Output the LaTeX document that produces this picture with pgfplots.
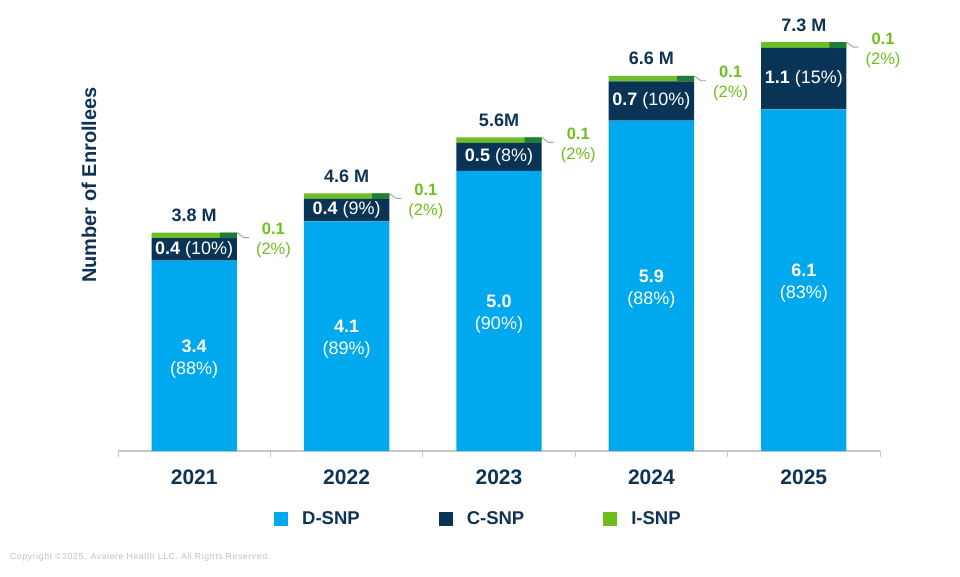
\documentclass[border=0pt]{standalone}
\usepackage{fontspec}
\setmainfont{Liberation Sans}
\usepackage{pgfplots}
\pgfplotsset{compat=1.18}
\definecolor{dsnp}{HTML}{00A9EE}
\definecolor{csnp}{HTML}{0A3456}
\definecolor{isnpL}{HTML}{6DBE2A}
\definecolor{isnpD}{HTML}{1F7D3A}
\definecolor{isnptext}{HTML}{6EBE1E}
\definecolor{navytext}{HTML}{0E3353}
\definecolor{axgray}{HTML}{C8C8C8}
\definecolor{leadgray}{HTML}{A0A0A0}
\definecolor{copygray}{HTML}{C0C0C0}
\pgfplotsset{common/.style={
  at={(118pt,125pt)}, anchor=south west,
  scale only axis, width=762pt, height=448pt,
  xmin=-0.5, xmax=4.5, ymin=0, ymax=8, clip=false}}
\begin{document}
\begin{tikzpicture}[x=1pt,y=1pt]
\path[use as bounding box] (0,0) rectangle (960,576);
\begin{axis}[
  common,
  ybar stacked, bar width=0.56,
  axis x line*=bottom, axis y line=none,
  x axis line style={draw=axgray, line width=1.2pt},
  xtick={0,1,2,3,4}, xticklabels={2021,2022,2023,2024,2025},
  major tick length=0pt,
  minor xtick={-0.5,0.5,1.5,2.5,3.5,4.5},
  minor tick length=6pt, tick align=outside,
  minor tick style={draw=axgray, line width=1pt},
  xticklabel style={font=\fontsize{21}{24}\selectfont\bfseries, text=navytext, yshift=-15pt},
  ytick=\empty,
  legend columns=3,
  legend style={draw=none, fill=none, at={(0.473,-0.152)}, anchor=center,
    font=\fontsize{18.5}{22}\selectfont\bfseries, text=navytext,
    /tikz/every even column/.append style={column sep=77pt},
    /tikz/every odd column/.append style={column sep=12pt}},
  legend image code/.code={\fill[#1,draw=none] (0pt,-7pt) rectangle (14pt,7pt);},
]
\addplot[fill=dsnp, draw=none, forget plot] coordinates {(0,3.4) (1,4.1) (2,5.0) (3,5.9) (4,6.1)};
\addplot[fill=csnp, draw=none, forget plot] coordinates {(0,0.4) (1,0.4) (2,0.5) (3,0.7) (4,1.1)};
\addplot[fill=isnpL, draw=none, forget plot] coordinates {(0,0.1) (1,0.1) (2,0.1) (3,0.1) (4,0.1)};
\addlegendimage{fill=dsnp}
\addlegendentry{D-SNP}
\addlegendimage{fill=csnp}
\addlegendentry{C-SNP}
\addlegendimage{fill=isnptext}
\addlegendentry{I-SNP}
\end{axis}
\begin{axis}[
  common, hide axis,
  ybar stacked, bar width=0.112, bar shift=0.224,
]
% invisible base (D-SNP + C-SNP), then the darker right end of the I-SNP segment
\addplot[draw=none, fill=none] coordinates {(0,3.8) (1,4.5) (2,5.5) (3,6.6) (4,7.2)};
\addplot[fill=isnpD, draw=none] coordinates {(0,0.1) (1,0.1) (2,0.1) (3,0.1) (4,0.1)};
% D-SNP labels
\foreach \x/\v/\p in {0/3.4/88, 1/4.1/89, 2/5.0/90, 3/5.9/88, 4/6.1/83} {
  \edef\temp{\noexpand\node[text=white, align=center, yshift=-3pt, font=\noexpand\fontsize{18}{22}\noexpand\selectfont] at (axis cs:\x,\v/2) {\noexpand\textbf{\v}\noexpand\\(\p\noexpand\%)};}
  \temp
}
% C-SNP labels
\node[text=white, font=\fontsize{18}{21}\selectfont] at (axis cs:0,3.6) {\textbf{0.4} (10\%)};
\node[text=white, font=\fontsize{18}{21}\selectfont] at (axis cs:1,4.3) {\textbf{0.4} (9\%)};
\node[text=white, font=\fontsize{18}{21}\selectfont] at (axis cs:2,5.25) {\textbf{0.5} (8\%)};
\node[text=white, font=\fontsize{18}{21}\selectfont] at (axis cs:3,6.25) {\textbf{0.7} (10\%)};
\node[text=white, font=\fontsize{18}{21}\selectfont] at (axis cs:4,6.65) {\textbf{1.1} (15\%)};
% totals
\node[anchor=base, text=navytext, font=\fontsize{18}{21}\selectfont\bfseries, yshift=11pt] at (axis cs:0,3.9) {3.8 M};
\node[anchor=base, text=navytext, font=\fontsize{18}{21}\selectfont\bfseries, yshift=11pt] at (axis cs:1,4.6) {4.6 M};
\node[anchor=base, text=navytext, font=\fontsize{18}{21}\selectfont\bfseries, yshift=11pt] at (axis cs:2,5.6) {5.6M};
\node[anchor=base, text=navytext, font=\fontsize{18}{21}\selectfont\bfseries, yshift=11pt] at (axis cs:3,6.7) {6.6 M};
\node[anchor=base, text=navytext, font=\fontsize{18}{21}\selectfont\bfseries, yshift=11pt] at (axis cs:4,7.3) {7.3 M};
% I-SNP labels and leaders
\foreach \x/\t in {0/3.9, 1/4.6, 2/5.6, 3/6.7, 4/7.3} {
  \edef\temp{\noexpand\draw[leadgray, line width=0.9pt] (axis cs:\x+0.28,\t) -- ++(7pt,-5pt) -- ++(5pt,0pt);
  \noexpand\node[text=isnptext, align=center, font=\noexpand\fontsize{16.5}{20}\noexpand\selectfont, yshift=-8pt] at (axis cs:\x+0.52,\t) {\noexpand\textbf{0.1}\noexpand\\(2\noexpand\%)};}
  \temp
}
\end{axis}
\node[rotate=90, text=navytext, font=\fontsize{20}{24}\selectfont\bfseries] at (89,391) {Number of Enrollees};
\node[anchor=west, text=copygray, font=\fontsize{8.7}{10}\selectfont\addfontfeatures{LetterSpace=7}, inner sep=0pt] at (10,19) {Copyright ©2025. Avalere Health LLC. All Rights Reserved.};
\end{tikzpicture}
\end{document}
